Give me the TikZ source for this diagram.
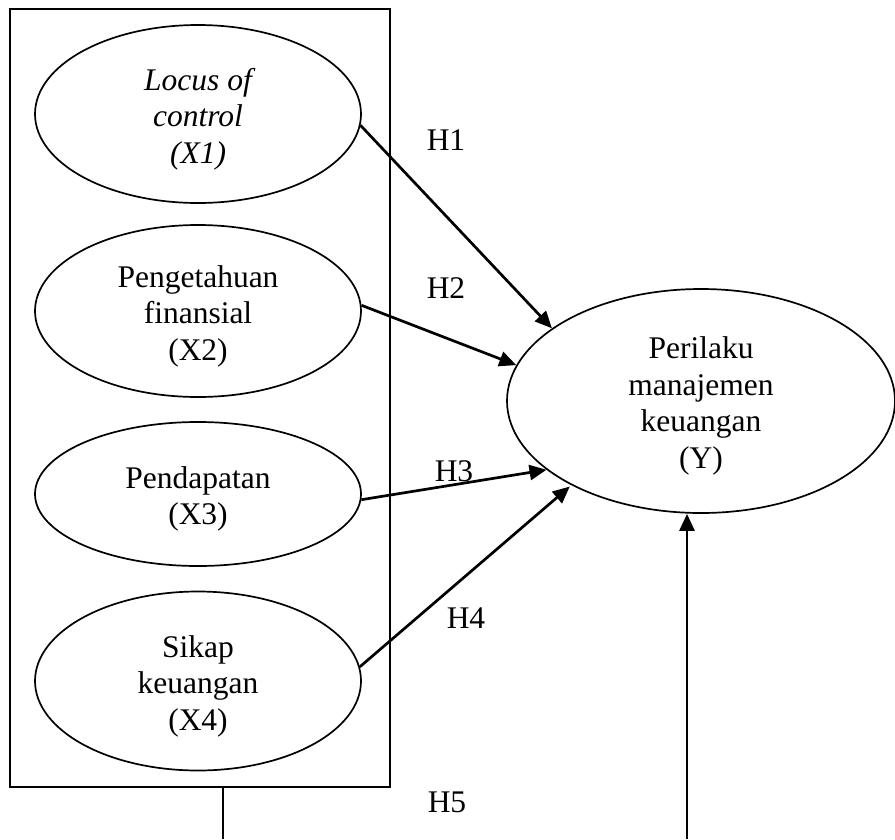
\documentclass[tikz,border=0pt]{standalone}
\usepackage{fontspec}
\setmainfont{Liberation Serif}
\usetikzlibrary{shapes.geometric,arrows.meta}
\newcommand\mytopgap{\rule{0pt}{32pt}}
\begin{document}
\begin{tikzpicture}[x=1pt,y=-1pt,
  every node/.style={font=\fontsize{31.5}{36.5}\selectfont},
  var/.style={draw, ellipse, line width=1.7pt, inner sep=0pt, align=center},
  xvar/.style={var, minimum width=326pt},
  link/.style={line width=2.7pt, -{Triangle[length=17pt,width=15pt]}},
  plain/.style={line width=1.7pt},
  hlabel/.style={inner sep=0pt}]
\useasboundingbox (0,0) rectangle (895,839);
\node[draw, line width=1.7pt, minimum width=380pt, minimum height=778pt, inner sep=0pt] (grp) at (200,398) {};
\node[xvar, minimum height=178pt] (e1) at (198,114) {\mytopgap\itshape Locus of\\\itshape control\\\itshape (X1)};
\node[xvar, minimum height=172pt] (e2) at (198,311) {\mytopgap Pengetahuan\\finansial\\(X2)};
\node[xvar, minimum height=144pt] (e3) at (198,494) {\mytopgap Pendapatan\\(X3)};
\node[xvar, minimum height=179pt] (e4) at (198,681) {\mytopgap Sikap\\keuangan\\(X4)};
\node[var, minimum width=388pt, minimum height=224pt] (y) at (701,401) {\mytopgap Perilaku\\manajemen\\keuangan\\(Y)};
\node[hlabel] (h1) at (446,140) {H1};
\node[hlabel] (h2) at (446,288) {H2};
\node[hlabel] (h3) at (454,471) {H3};
\node[hlabel] (h4) at (466,618) {H4};
\node[hlabel] (h5) at (447,802) {H5};
\coordinate (gbot) at (223,839);
\coordinate (ybot) at (687,839);
\draw[link] (e1.-4) -- (y.154);
\draw[link] (e2.2.5) -- (y.169.5);
\draw[link] (e3.-2) -- (y.204.7);
\draw[link, shorten >=2pt] (e4.5) -- (y.213.4);
\draw[plain] (grp.south -| gbot) -- (gbot);
\draw[link] (ybot) -- (ybot |- y.south);
\end{tikzpicture}
\end{document}
